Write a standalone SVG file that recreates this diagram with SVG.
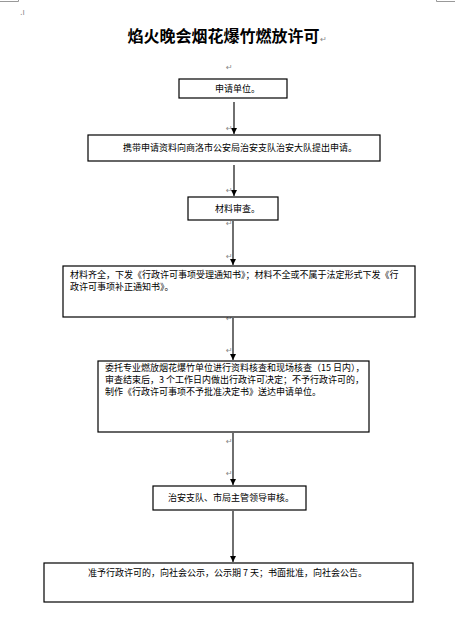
<svg xmlns="http://www.w3.org/2000/svg" width="455" height="625" viewBox="0 0 455 625">
<style>
.box{fill:#fff;stroke:#000;stroke-width:1.2}
.t{font-family:"Noto Sans CJK SC","Liberation Sans",sans-serif;font-size:9px;fill:#000}
.pm{font-family:"DejaVu Sans",sans-serif;font-size:8px;fill:#888}
.ln{stroke:#222;stroke-width:1.3;fill:none}
.crop{stroke:#999;stroke-width:1;fill:none}
</style>
<defs>
<marker id="ah" viewBox="0 0 8 8" refX="8" refY="4" markerWidth="5" markerHeight="5" orient="auto" markerUnits="strokeWidth">
<path d="M0,0 L8,4 L0,8 Z" fill="#000"/>
</marker>
</defs>
<rect width="455" height="625" fill="#fff"/>
<path class="crop" d="M0,1.5 H18.5 V0 M436.5,0 V1.5 H455"/>
<text class="pm" x="20" y="15">.ı</text>
<text x="227" y="42" text-anchor="middle" font-family="Noto Sans CJK SC,sans-serif" font-weight="bold" font-size="16px" fill="#000">焰火晚会烟花爆竹燃放许可<tspan font-size="8px" font-weight="normal" fill="#888">↵</tspan></text>

<g id="connectors">
<line class="ln" x1="234" y1="102" x2="234" y2="134" marker-end="url(#ah)"/>
<line class="ln" x1="234" y1="165" x2="234" y2="196" marker-end="url(#ah)"/>
<line class="ln" x1="233" y1="221" x2="233" y2="265" marker-end="url(#ah)"/>
<line class="ln" x1="233" y1="318" x2="233" y2="360" marker-end="url(#ah)"/>
<line class="ln" x1="233" y1="433" x2="233" y2="485" marker-end="url(#ah)"/>
<line class="ln" x1="233" y1="511" x2="233" y2="562" marker-end="url(#ah)"/>
</g>
<g id="marks">
<text class="pm" x="226" y="70">↵</text>
<text class="pm" x="226" y="131">↵</text>
<text class="pm" x="226" y="193">↵</text>
<text class="pm" x="226" y="226">↵</text>
<text class="pm" x="226" y="259">↵</text>
<text class="pm" x="226" y="321">↵</text>
<text class="pm" x="226" y="353">↵</text>
<text class="pm" x="226" y="444">↵</text>
<text class="pm" x="226" y="476">↵</text>
</g>

<g id="n1">
<rect class="box" x="179" y="79" width="108" height="19"/>
<text class="t" x="215" y="92">申请单位。</text>
</g>
<g id="n2">
<rect class="box" x="88" y="135" width="292" height="26"/>
<text class="t" x="123" y="151">携带申请资料向商洛市公安局治安支队治安大队提出申请。</text>
</g>
<g id="n3">
<rect class="box" x="188" y="197" width="90" height="23"/>
<text class="t" x="215" y="212">材料审查。</text>
</g>
<g id="n4">
<rect class="box" x="63" y="266" width="352" height="51"/>
<text class="t" x="70" y="278">材料齐全，下发《行政许可事项受理通知书》；材料不全或不属于法定形式下发《行</text>
<text class="t" x="70" y="290">政许可事项补正通知书》。</text>
</g>
<g id="n5">
<rect class="box" x="98" y="361" width="271" height="71"/>
<text class="t" x="105" y="371">委托专业燃放烟花爆竹单位进行资料核查和现场核查（15 日内），</text>
<text class="t" x="105" y="383">审查结束后，3 个工作日内做出行政许可决定；不予行政许可的，</text>
<text class="t" x="105" y="395">制作《行政许可事项不予批准决定书》送达申请单位。</text>
</g>
<g id="n6">
<rect class="box" x="153" y="486" width="153" height="24"/>
<text class="t" x="168" y="501">治安支队、市局主管领导审核。</text>
</g>
<g id="n7">
<rect class="box" x="44" y="563" width="369" height="39"/>
<text class="t" x="88" y="576">准予行政许可的，向社会公示，公示期 7 天；书面批准，向社会公告。</text>
</g>
</svg>
